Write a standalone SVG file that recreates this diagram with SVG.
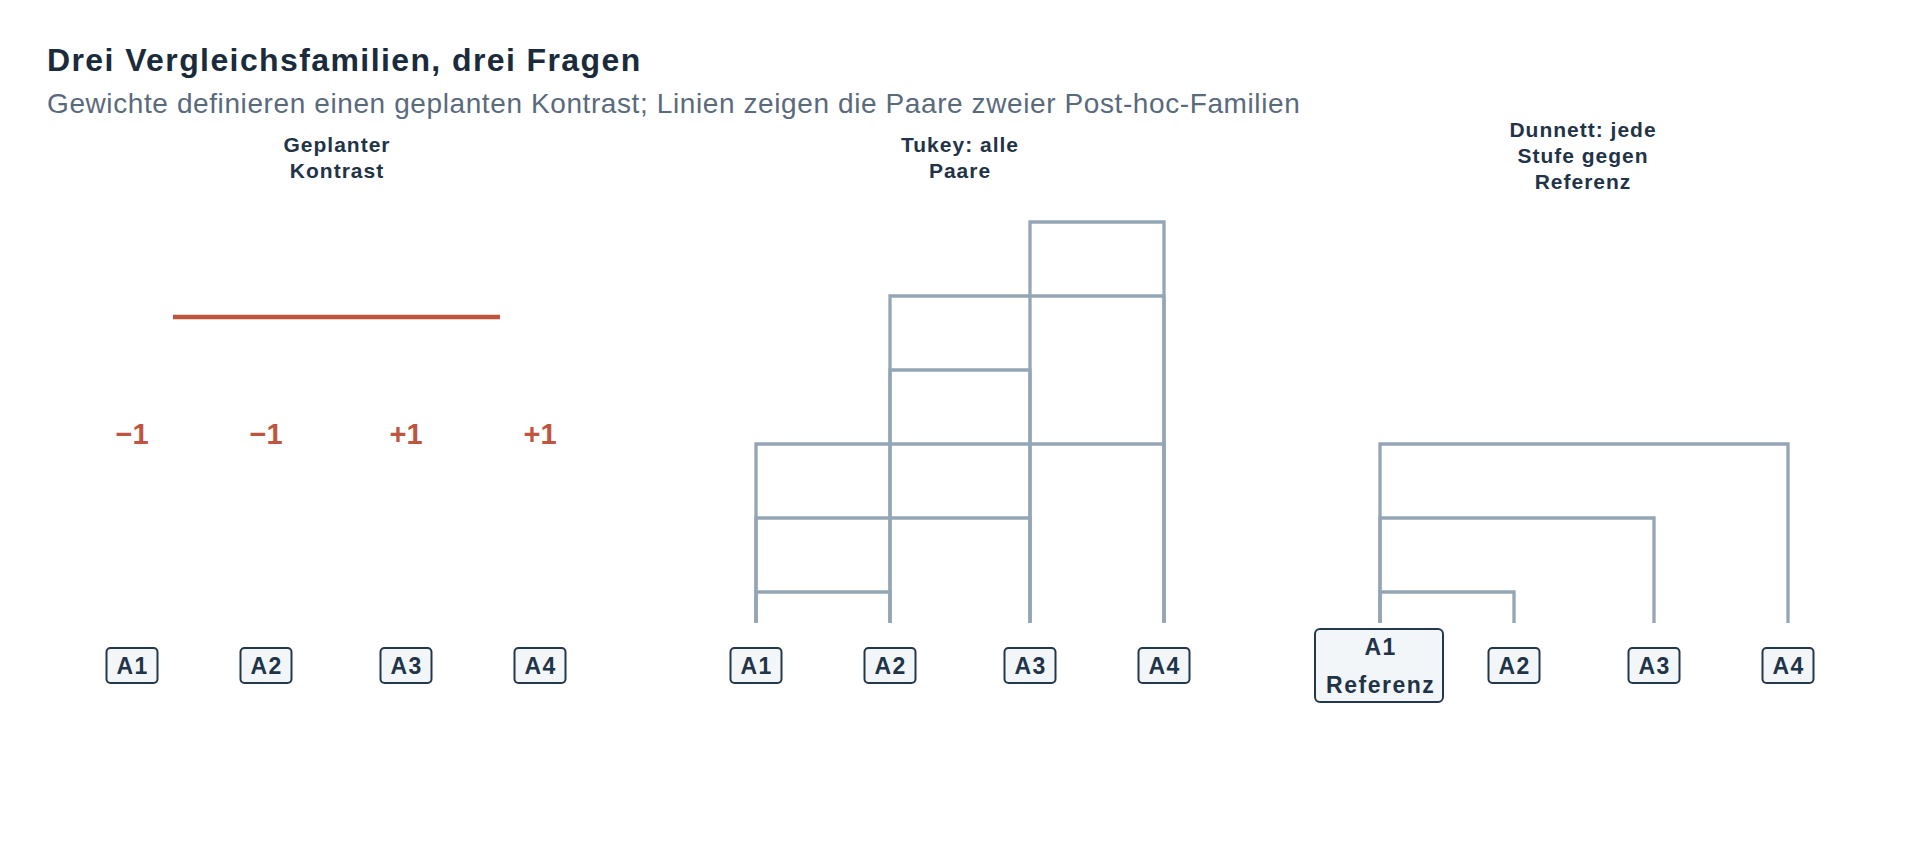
<svg xmlns="http://www.w3.org/2000/svg" width="1920" height="864" viewBox="0 0 1920 864">
  <style>
    .title { font-family: "Liberation Sans", Arial, sans-serif; font-weight: bold; font-size: 32px; letter-spacing: 1.4px; fill: #1a2b3c; }
    .subtitle { font-family: "Liberation Sans", Arial, sans-serif; font-size: 28px; letter-spacing: 0.6px; fill: #5a6a7d; }
    .ptitle { font-family: "Liberation Sans", Arial, sans-serif; font-weight: bold; font-size: 21px; letter-spacing: 1px; fill: #1f3448; text-anchor: middle; }
    .box { fill: #f3f6f9; stroke: #24384b; stroke-width: 2; }
    .lbl { font-family: "Liberation Sans", Arial, sans-serif; font-weight: bold; font-size: 23px; letter-spacing: 1.5px; fill: #1f3448; text-anchor: middle; }
    .wt { font-family: "Liberation Sans", Arial, sans-serif; font-weight: bold; font-size: 29px; fill: #c0553f; text-anchor: middle; }
    .pair { fill: none; stroke: #94a6b6; stroke-width: 3.3; }
    .contrast { stroke: #c0553f; stroke-width: 4.5; }
  </style>
  <rect width="1920" height="864" fill="#ffffff"/>

  <g id="header">
    <text class="title" x="47" y="71">Drei Vergleichsfamilien, drei Fragen</text>
    <text class="subtitle" x="47" y="113">Gewichte definieren einen geplanten Kontrast; Linien zeigen die Paare zweier Post-hoc-Familien</text>
  </g>

  <g id="panel-titles">
    <text class="ptitle" x="337" y="152">Geplanter</text>
    <text class="ptitle" x="337" y="178">Kontrast</text>
    <text class="ptitle" x="960" y="152">Tukey: alle</text>
    <text class="ptitle" x="960" y="178">Paare</text>
    <text class="ptitle" x="1583" y="137">Dunnett: jede</text>
    <text class="ptitle" x="1583" y="163">Stufe gegen</text>
    <text class="ptitle" x="1583" y="189">Referenz</text>
  </g>

  <g id="connectors">
    <line class="contrast" x1="173" y1="317" x2="500" y2="317"/>
    <!-- Tukey -->
    <path class="pair" d="M756 623 V592 H890 V623"/>
    <path class="pair" d="M756 623 V518 H1030 V623"/>
    <path class="pair" d="M756 623 V444 H1164 V623"/>
    <path class="pair" d="M890 623 V370 H1030 V623"/>
    <path class="pair" d="M890 623 V296 H1164 V623"/>
    <path class="pair" d="M1030 623 V222 H1164 V623"/>
    <!-- Dunnett -->
    <path class="pair" d="M1380 623 V592 H1514 V623"/>
    <path class="pair" d="M1380 623 V518 H1654 V623"/>
    <path class="pair" d="M1380 623 V444 H1788 V623"/>
  </g>

  <g id="weights">
    <text class="wt" x="132" y="444">−1</text>
    <text class="wt" x="266" y="444">−1</text>
    <text class="wt" x="406" y="444">+1</text>
    <text class="wt" x="540" y="444">+1</text>
  </g>

  <g id="p1-A1"><rect class="box" x="106.5" y="648" width="51" height="35" rx="4"/><text class="lbl" x="132.7" y="674">A1</text></g>
  <g id="p1-A2"><rect class="box" x="240.5" y="648" width="51" height="35" rx="4"/><text class="lbl" x="266.7" y="674">A2</text></g>
  <g id="p1-A3"><rect class="box" x="380.5" y="648" width="51" height="35" rx="4"/><text class="lbl" x="406.7" y="674">A3</text></g>
  <g id="p1-A4"><rect class="box" x="514.5" y="648" width="51" height="35" rx="4"/><text class="lbl" x="540.7" y="674">A4</text></g>

  <g id="p2-A1"><rect class="box" x="730.5" y="648" width="51" height="35" rx="4"/><text class="lbl" x="756.7" y="674">A1</text></g>
  <g id="p2-A2"><rect class="box" x="864.5" y="648" width="51" height="35" rx="4"/><text class="lbl" x="890.7" y="674">A2</text></g>
  <g id="p2-A3"><rect class="box" x="1004.5" y="648" width="51" height="35" rx="4"/><text class="lbl" x="1030.7" y="674">A3</text></g>
  <g id="p2-A4"><rect class="box" x="1138.5" y="648" width="51" height="35" rx="4"/><text class="lbl" x="1164.7" y="674">A4</text></g>

  <g id="p3-A1"><rect class="box" x="1315" y="629" width="128" height="73" rx="5"/><text class="lbl" x="1380.7" y="655">A1</text><text class="lbl" x="1380.7" y="693">Referenz</text></g>
  <g id="p3-A2"><rect class="box" x="1488.5" y="648" width="51" height="35" rx="4"/><text class="lbl" x="1514.7" y="674">A2</text></g>
  <g id="p3-A3"><rect class="box" x="1628.5" y="648" width="51" height="35" rx="4"/><text class="lbl" x="1654.7" y="674">A3</text></g>
  <g id="p3-A4"><rect class="box" x="1762.5" y="648" width="51" height="35" rx="4"/><text class="lbl" x="1788.7" y="674">A4</text></g>
</svg>
